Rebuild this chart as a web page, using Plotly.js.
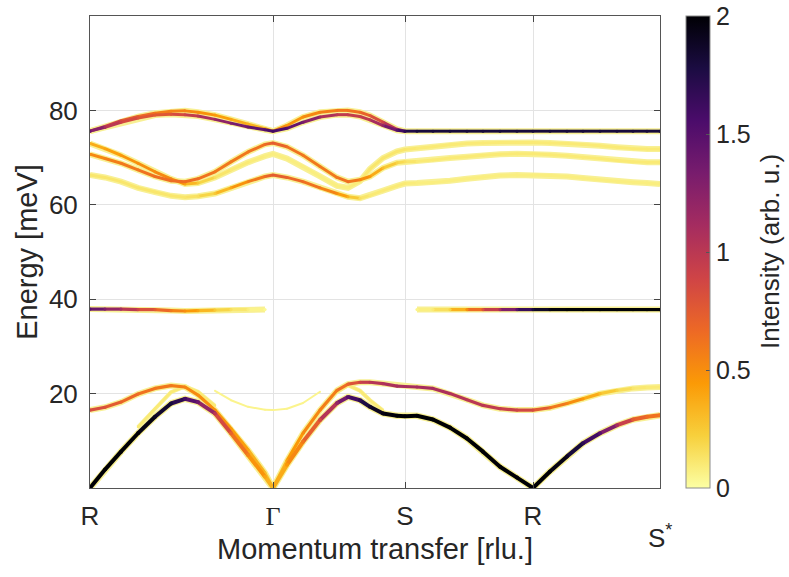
<!DOCTYPE html>
<html><head><meta charset="utf-8">
<script src="https://cdn.plot.ly/plotly-3.0.1.min.js"></script>
<style>body{margin:0;background:#fff}</style>
</head><body><div id="chart" style="width:789px;height:577px"></div>
<script>
// Path coordinate (arbitrary path units). High-symmetry points:
const tickPos = [0, 1.83, 3.15, 4.43];
const tickLabels = ['R', '<span style="font-family:Liberation Serif">Γ</span>', 'S', 'R'];
const endPos = 5.70;
const endLabel = 'S<sup>*</sup>';
const energyTicks = [20, 40, 60, 80];
const intensityTicks = [0, 0.5, 1, 1.5, 2];
const intensityLabels = ['0', '0.5', '1', '1.5', '2'];

// Sampling positions along the path (R-Γ | Γ-S | S-R | R-S*)
const qPath = [0,0.15,0.31,0.48,0.65,0.81,0.95,1.08,1.25,1.41,1.58,1.75,1.83,
  1.97,2.13,2.30,2.47,2.58,2.70,2.80,2.93,3.07,3.15,
  3.27,3.43,3.60,3.77,3.93,4.10,4.27,4.43,
  4.60,4.77,4.93,5.10,5.27,5.43,5.57,5.70];
const n = null;

// Energies (meV) and intensities, one pair per branch
const upper1E = [75.6,76.6,77.8,78.7,79.4,79.8,79.9,79.6,79.0,78.1,77.1,76.1,75.6,
  76.8,78.6,79.6,80.0,80.0,79.6,78.9,77.5,76.0,75.6,
  n,n,n,n,n,n,n,n, n,n,n,n,n,n,n,n];
const upper1I = [1.3,1.0,0.8,0.7,0.6,0.55,0.55,0.5,0.45,0.4,0.35,0.35,0.6,
  0.45,0.5,0.55,0.6,0.6,0.65,0.75,0.9,1.1,1.4,
  n,n,n,n,n,n,n,n, n,n,n,n,n,n,n,n];
const upper2E = [75.6,76.4,77.5,78.4,79.0,79.2,79.1,78.8,78.1,77.3,76.5,75.9,75.6,
  76.2,77.5,78.6,79.1,79.1,78.7,78.0,76.8,75.8,75.6,
  75.6,75.6,75.6,75.6,75.6,75.6,75.6,75.6, 75.6,75.6,75.6,75.6,75.6,75.6,75.6,75.6];
const upper2I = [1.4,1.1,0.9,0.8,0.75,0.8,0.9,1.0,1.15,1.3,1.4,1.5,1.6,
  1.5,1.35,1.15,1.0,0.95,0.95,1.0,1.2,1.5,1.7,
  1.8,1.8,1.8,1.8,1.8,1.8,1.8,1.8, 1.8,1.8,1.8,1.8,1.8,1.8,1.8,1.8];
const mid1E = [73.0,71.9,70.5,68.8,67.0,65.5,64.4,64.6,65.8,67.4,69.0,70.3,70.8,
  69.8,68.1,66.0,64.0,63.6,65.0,67.6,69.9,71.3,71.7,
  72.0,72.3,72.7,73.0,73.1,73.2,73.2,73.2, 73.1,73.0,72.8,72.5,72.2,71.9,71.8,71.8];
const mid1I = [0.35,0.4,0.45,0.5,0.5,0.55,0.4,0.25,0.15,0.1,0.1,0.08,0.08,
  0.08,0.08,0.08,0.08,0.08,0.1,0.12,0.12,0.12,0.12,
  0.1,0.1,0.1,0.1,0.1,0.1,0.1,0.1, 0.1,0.1,0.1,0.1,0.1,0.1,0.1,0.1];
const mid2E = [70.7,69.8,68.8,67.4,66.0,65.1,64.9,65.5,67.0,69.1,71.2,72.8,73.1,
  72.3,70.5,68.1,65.8,64.9,65.3,66.0,67.8,68.9,69.1,
  69.2,69.5,69.9,70.2,70.5,70.7,70.8,70.8, 70.6,70.4,70.1,69.8,69.4,69.1,69.0,69.0];
const mid2I = [0.5,0.55,0.6,0.6,0.65,0.65,0.65,0.65,0.6,0.6,0.6,0.65,0.75,
  0.65,0.6,0.6,0.6,0.65,0.55,0.45,0.3,0.2,0.15,
  0.1,0.1,0.1,0.1,0.1,0.1,0.1,0.1, 0.1,0.1,0.1,0.1,0.1,0.1,0.1,0.1];
const mid3E = [66.3,65.8,64.9,63.6,62.7,61.9,61.6,61.8,62.4,63.6,64.9,66.0,66.3,
  65.8,64.9,63.6,62.4,61.7,61.4,62.0,63.0,64.0,64.5,
  64.6,64.7,65.1,65.5,65.9,66.2,66.3,66.3, 66.2,66.0,65.7,65.3,65.0,64.8,64.6,64.4];
const mid3I = [0.12,0.12,0.12,0.12,0.12,0.12,0.12,0.15,0.25,0.4,0.55,0.65,0.75,
  0.7,0.65,0.6,0.5,0.35,0.15,0.1,0.1,0.1,0.1,
  0.08,0.08,0.08,0.08,0.08,0.08,0.08,0.08, 0.08,0.08,0.08,0.08,0.08,0.08,0.08,0.08];
const flatE = [37.9,37.9,37.9,37.8,37.8,37.6,37.5,37.6,37.7,37.8,37.8,37.8,n,
  n,n,n,n,n,n,n,n,n,n,
  37.8,37.8,37.8,37.8,37.8,37.8,37.8,37.8, 37.8,37.8,37.8,37.8,37.8,37.8,37.8,37.8];
const flatI = [1.5,1.3,1.1,0.9,0.75,0.6,0.5,0.4,0.25,0.15,0.08,0.03,n,
  n,n,n,n,n,n,n,n,n,n,
  0.05,0.1,0.2,0.5,0.8,1.1,1.5,1.8, 1.95,2,2,2,2,2,2,2];
const acousticE = [0,3.9,7.7,11.6,15.1,17.9,18.9,18.2,15.8,11.6,7.0,2.4,0,
  4.9,9.8,14.4,18.0,19.3,18.6,17.2,15.8,15.3,15.2,
  15.3,14.5,12.8,10.5,7.7,4.5,2.2,0, 3.5,6.7,9.5,11.6,13.3,14.5,15.1,15.4];
const acousticI = [2,2,2,2,1.9,1.8,1.6,1.4,1.0,0.7,0.55,0.4,0.3,
  0.45,0.6,0.85,1.2,1.5,1.7,1.85,1.95,2,2,
  2,2,2,2,2,2,2,2, 2,1.9,1.7,1.5,1.1,0.75,0.65,0.6];
const opticE = [16.5,17.1,18.2,19.9,21.1,21.7,21.4,19.7,16.5,12.6,8.1,3.2,0,
  5.8,11.6,16.5,20.7,22.0,22.4,22.4,22.1,21.6,21.5,
  21.4,21.1,20.0,18.7,17.5,16.8,16.5,16.5, 17.0,17.9,18.9,20.0,20.7,21.1,21.3,21.4];
const opticI = [0.85,0.8,0.7,0.65,0.6,0.6,0.55,0.5,0.5,0.45,0.4,0.3,0.25,
  0.4,0.5,0.55,0.6,0.7,0.9,1.0,1.05,1.1,1.1,
  1.1,1.1,1.05,1.0,1.0,0.95,0.9,0.85, 0.65,0.55,0.45,0.3,0.2,0.12,0.1,0.1];
const faintE = [n,n,n,12.9,16.8,20.3,21.5,20.4,17.4,n,n,n,n,
  n,n,n,20.3,21.8,20.6,18.6,16.4,n,n,
  n,n,n,n,n,n,n,n, n,n,n,n,n,n,n,n];
const faintI = [n,n,n,0.1,0.1,0.1,0.1,0.1,0.1,n,n,n,n,
  n,n,n,0.1,0.1,0.1,0.1,0.1,n,n,
  n,n,n,n,n,n,n,n, n,n,n,n,n,n,n,n];
const gammaE = [n,n,n,n,n,n,n,n,20.6,18.6,17.2,16.6,16.5,
  16.8,18.0,20.4,n,n,n,n,n,n,n,
  n,n,n,n,n,n,n,n, n,n,n,n,n,n,n,n];
const gammaI = [n,n,n,n,n,n,n,n,0.05,0.05,0.05,0.05,0.05,
  0.05,0.05,0.05,n,n,n,n,n,n,n,
  n,n,n,n,n,n,n,n, n,n,n,n,n,n,n,n];

// reversed inferno colour map
const CS = [[0,'#fcffa4'],[0.111,'#f7d03c'],[0.222,'#fb9a06'],[0.333,'#ed6925'],
  [0.444,'#cf4446'],[0.556,'#a52c60'],[0.667,'#781c6d'],[0.778,'#4b0c6b'],
  [0.889,'#1b0c42'],[1,'#000004']];
const CMIN = 0, CMAX = 2;
function hex(c){return [1,3,5].map(i=>parseInt(c.substr(i,2),16));}
function colorAt(v){
  let f = Math.max(0, Math.min(1, v/CMAX));
  for (let k=0;k<CS.length-1;k++){
    if (f <= CS[k+1][0]){
      const t=(f-CS[k][0])/(CS[k+1][0]-CS[k][0]);
      const a=hex(CS[k][1]), b=hex(CS[k+1][1]);
      return 'rgb('+a.map((x,i)=>Math.round(x+(b[i]-x)*t)).join(',')+')';
    }
  }
  return CS[CS.length-1][1];
}

const branches = [
  {E:gammaE, I:gammaI, w:2, halo:0},
  {E:faintE, I:faintI, w:2.5, halo:4},
  {E:mid1E, I:mid1I, w:3, halo:6},
  {E:mid3E, I:mid3I, w:3, halo:6},
  {E:mid2E, I:mid2I, w:3, halo:6},
  {E:upper1E, I:upper1I, w:3, halo:6},
  {E:upper2E, I:upper2I, w:3, halo:6},
  {E:flatE, I:flatI, w:3.2, halo:6},
  {E:opticE, I:opticI, w:3.2, halo:6},
  {E:acousticE, I:acousticI, w:4, halo:6.5}
];

const traces = [];
branches.forEach(b=>{
  if (b.halo>0) traces.push({type:'scatter', mode:'lines', x:qPath, y:b.E,
    line:{color:'#f8f094', width:b.halo}, connectgaps:false, hoverinfo:'skip'});
});
let first = true;
branches.forEach(b=>{
  for (let i=0;i<qPath.length-1;i++){
    if (b.E[i]===null || b.E[i+1]===null) continue;
    traces.push({type:'scatter', mode:'lines', x:[qPath[i],qPath[i+1]], y:[b.E[i],b.E[i+1]],
      line:{color:colorAt((b.I[i]+b.I[i+1])/2), width:b.w}, hoverinfo:'skip'});
  }
  traces.push({type:'scatter', mode:'markers', x:qPath, y:b.E,
    marker:{color:b.I, colorscale:CS, cmin:CMIN, cmax:CMAX, size:b.w, line:{width:0},
      showscale:first,
      colorbar: first ? {x:1.0456, xanchor:'left', y:0, yanchor:'bottom', len:1, lenmode:'fraction',
        thickness:24, thicknessmode:'pixels', xpad:0, ypad:0,
        outlinewidth:1, outlinecolor:'#8c8c8c',
        tickmode:'array', tickvals:intensityTicks, ticktext:intensityLabels,
        ticklabeloverflow:'allow',
        ticks:'inside', ticklen:4, tickcolor:'#555',
        tickfont:{size:25, color:'#262626'}} : undefined},
    hoverinfo:'skip'});
  first = false;
});

const layout = {
  width:789, height:577,
  margin:{l:90, r:129, t:16, b:89},
  paper_bgcolor:'#fff', plot_bgcolor:'#fff',
  showlegend:false,
  font:{family:'Liberation Sans, Arial, sans-serif', color:'#262626'},
  xaxis:{range:[tickPos[0], endPos], tickmode:'array', tickvals:tickPos, ticktext:tickLabels,
    ticks:'inside', ticklen:6, tickcolor:'#444', showgrid:true, gridcolor:'#e3e3e3',
    showline:true, linecolor:'#555', linewidth:1, mirror:'ticks', zeroline:false,
    tickfont:{size:26}, ticklabelstandoff:5,
    title:{text:'Momentum transfer [rlu.]', font:{size:29}, standoff:8}},
  yaxis:{range:[0,100], tickmode:'array', tickvals:energyTicks,
    ticks:'inside', ticklen:6, tickcolor:'#444', showgrid:true, gridcolor:'#e3e3e3',
    showline:true, linecolor:'#555', linewidth:1, mirror:'ticks', zeroline:false,
    tickfont:{size:26}, ticklabelstandoff:6,
    title:{text:'Energy [meV]', font:{size:29}, standoff:2}},
  annotations:[
    {x:endPos, y:0, xref:'x', yref:'paper', text:endLabel,
      showarrow:false, yanchor:'top', xanchor:'center', yshift:-30, font:{size:26, color:'#262626'}},
    {x:1.193, y:0.5, xref:'paper', yref:'paper', text:'Intensity (arb. u.)', textangle:-90,
      showarrow:false, xanchor:'center', yanchor:'middle', font:{size:26, color:'#262626'}}
  ]
};

Plotly.newPlot('chart', traces, layout, {displayModeBar:false, staticPlot:true});
</script>
</body></html>
